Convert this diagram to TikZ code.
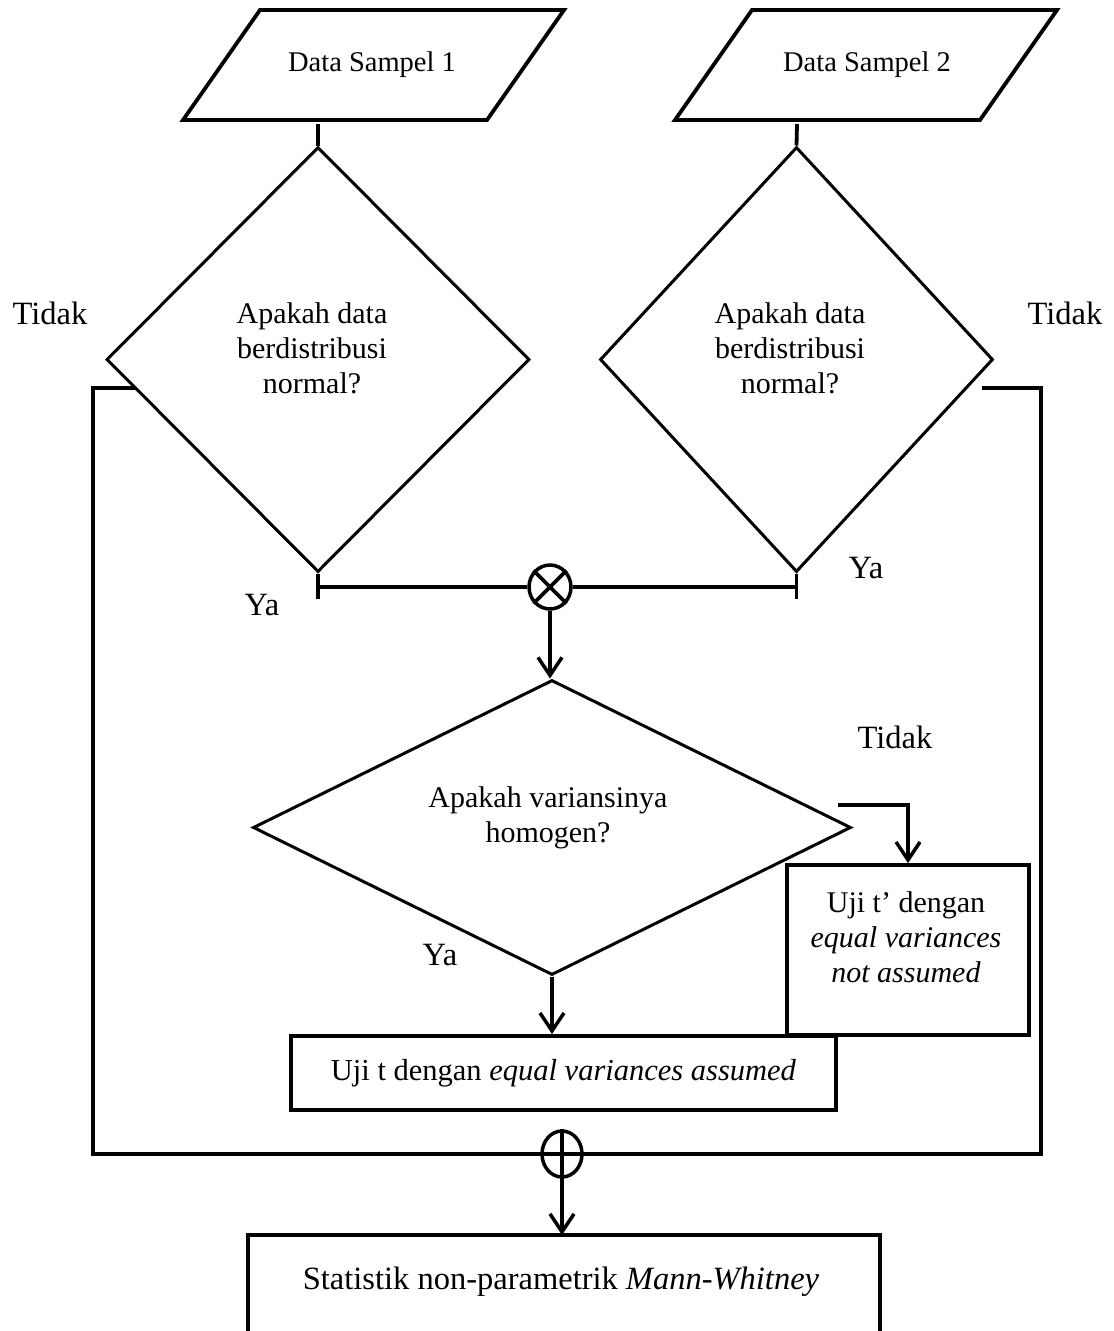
\documentclass[tikz,border=0pt]{standalone}
\usepackage{fontspec}
\setmainfont{Liberation Serif}
\usetikzlibrary{shapes.geometric,arrows.meta}
\begin{document}
\begin{tikzpicture}[x=1pt,y=-1pt,
  txt/.style={font=\fontsize{28.5}{35}\selectfont, align=center, inner sep=0pt},
  dtxt/.style={txt, font=\fontsize{30}{35}\selectfont},
  lbl/.style={txt, font=\fontsize{32.5}{36}\selectfont},
  btxt/.style={txt, font=\fontsize{30.5}{36}\selectfont},
  ln/.style={line width=3.8pt},
  dia/.style={diamond, draw, line width=3pt, inner sep=0pt, aspect=1},
  boxx/.style={draw, line width=3.8pt, inner sep=0pt},
  junc/.style={ellipse, draw, line width=3.5pt, inner sep=0pt},
  arr/.style={ln, -{Straight Barb[length=18pt,width=24pt,line width=3.5pt]}}
]
\useasboundingbox (0,0) rectangle (1114,1331);

% input parallelograms
\draw[ln, line join=miter] (183,120) -- (487,120) -- (564,10) -- (260,10) -- cycle;
\node[txt] (t1) at (372,65) {Data Sampel 1};
\coordinate (p1s) at (318,124);
\draw[ln, line join=miter] (675,120) -- (980,120) -- (1057,10) -- (752,10) -- cycle;
\node[txt] (t2) at (867,65) {Data Sampel 2};
\coordinate (p2s) at (797,124);

% decisions
\node[dia, minimum width=423pt, minimum height=425pt] (d1) at (318,359.5) {};
\node[dtxt] (d1t) at (312,348) {Apakah data\\berdistribusi\\normal?};
\node[dia, minimum width=393pt, minimum height=425pt] (d2) at (796.5,359.5) {};
\node[dtxt] (d2t) at (790,348) {Apakah data\\berdistribusi\\normal?};
\node[dia, minimum width=598pt, minimum height=295pt] (d3) at (552,827.5) {};
\node[dtxt] (d3t) at (548,818) {Apakah variansinya\\homogen?};

% junctions
\node[junc, minimum width=42pt, minimum height=44pt] (j1) at (550,587) {};
\draw[ln] (j1.45) -- (j1.225) (j1.135) -- (j1.315);
\node[junc, minimum width=40pt, minimum height=46pt] (j2) at (562,1154) {};
\draw[ln] (j2.north) -- (j2.south) (j2.west) -- (j2.east);

% process boxes
\node[boxx, minimum width=545pt, minimum height=74pt] (b1) at (563.5,1073) {};
\node[btxt] (b1t) at (b1.center) {Uji t dengan \textit{equal variances assumed}};
\node[boxx, minimum width=242pt, minimum height=170pt] (b2) at (908,950) {};
\node[dtxt] (b2t) at (906,937.5) {Uji t’ dengan\\\textit{equal variances}\\\textit{not assumed}};
\node[minimum width=632pt, minimum height=94pt, inner sep=0pt, anchor=north] (mw) at (564,1235) {};
\node[lbl] (mwt) at (561,1282) {Statistik non-parametrik \textit{Mann-Whitney}};
\draw[ln, line join=miter] ([yshift=-4pt]mw.south west) -- (mw.north west) -- (mw.north east) -- ([yshift=-4pt]mw.south east);

% connectors
\draw[ln] (p1s) -- (d1.north);
\draw[ln] (p2s) -- (d2.north);
\draw[ln] (d1.south) -- ++(0,25);
\draw[ln] (d2.south) -- ++(0,25);
\draw[ln] (d1.south |- j1.west) -- (j1.west);
\draw[ln] (d2.south |- j1.east) -- (j1.east);
\draw[arr] (j1.south) -- (j1.south |- d3.north);

\coordinate (l1) at (136,388);
\coordinate (lc) at (93,388);
\draw[ln, line join=miter] (l1) -- (lc) |- (j2.west);
\coordinate (r1) at (982,388);
\coordinate (rc) at (1041,388);
\draw[ln, line join=miter] (r1) -- (rc) |- (j2.east);
\draw[arr] (j2.south) -- (j2.south |- mw.north);

\coordinate (c3) at (838,805);
\draw[arr, line join=miter] (c3) -| (b2.north);
\draw[arr] (d3.south) -- (d3.south |- b1.north);

% labels
\node[lbl] (l_t1) at (50,313) {Tidak};
\node[lbl] (l_t2) at (1065,313) {Tidak};
\node[lbl] (l_y1) at (262,605) {Ya};
\node[lbl] (l_y2) at (866,568) {Ya};
\node[lbl] (l_t3) at (895,737) {Tidak};
\node[lbl] (l_y3) at (440,955) {Ya};
\end{tikzpicture}
\end{document}
